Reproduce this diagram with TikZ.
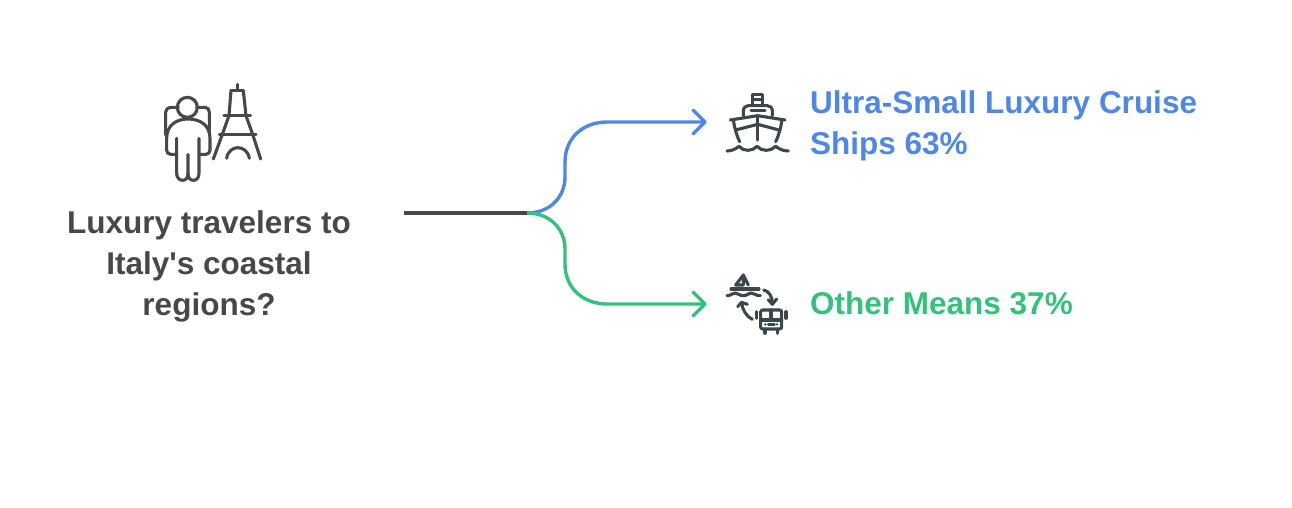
\documentclass[tikz,border=0pt]{standalone}
\usepackage{fontspec}
\newfontfamily\labelfont{Liberation Sans}[BoldFont={Liberation Sans Bold}]
\definecolor{ink}{HTML}{484848}
\definecolor{icon}{HTML}{3C474C}
\definecolor{bluec}{HTML}{4E88E7}
\definecolor{greenc}{HTML}{34C17B}
\tikzset{
  label text/.style={font=\labelfont\fontsize{31.5}{41}\selectfont\bfseries, inner sep=0pt, align=left},
  conn/.style={line width=3.4pt, line cap=round, line join=round},
  ico/.style={line width=3.1pt, line cap=round, line join=round, draw=#1},
}
\begin{document}
\begin{tikzpicture}[x=1pt,y=-1pt]
\useasboundingbox (0,0) rectangle (1292,507);
% texts
\node[label text, text=ink, align=center, anchor=base] (q) at (209,315) {Luxury travelers to\\Italy's coastal\\regions?};
\node[label text, text=bluec, anchor=base west] (a) at (810,154) {Ultra-Small Luxury Cruise\\Ships 63\%};
\node[label text, text=greenc, anchor=base west] (b) at (810,314) {Other Means 37\%};
% connectors
\coordinate (s) at (404,213);
\coordinate (m) at (527,213);
\coordinate (ea) at (705,122);
\coordinate (eb) at (705,304);
\draw[conn, draw=bluec] (m) .. controls (550,213) and (565,197) .. (565,177) -- (565,162) .. controls (565,138) and (583,122) .. (607,122) -- (ea);
\draw[conn, draw=bluec] (693,110) -- (ea) -- (693,134);
\draw[conn, draw=greenc] (m) .. controls (550,213) and (565,229) .. (565,249) -- (565,264) .. controls (565,288) and (583,304) .. (607,304) -- (eb);
\draw[conn, draw=greenc] (693,292) -- (eb) -- (693,316);
\draw[line width=3.4pt, draw=ink] (s) -- (m);
% traveller icon
\begin{scope}[shift={(150,75)},x=0.3333pt,y=-0.3333pt,ico=ink]
\draw (112,97) circle (30);
\draw (85,97) -- (62,97) .. controls (53,97) and (47,103) .. (47,112) -- (47,180);
\draw (140,97) -- (165,97) .. controls (173,97) and (178,103) .. (178,112) -- (178,180);
\draw (80,238) -- (62,238) .. controls (54,238) and (50,232) .. (50,225) -- (50,190) .. controls (50,150) and (80,132) .. (114,132) .. controls (150,132) and (180,150) .. (180,190) -- (180,225) .. controls (180,232) and (175,238) .. (168,238) -- (147,238);
\draw (80,190) -- (80,295) .. controls (80,308) and (88,316) .. (98,316) .. controls (108,316) and (114,308) .. (114,295) -- (114,238);
\draw (114,295) .. controls (114,308) and (120,316) .. (130,316) .. controls (140,316) and (147,308) .. (147,295) -- (147,190);
\draw (262,28) -- (262,47);
\draw (243,47) -- (280,47);
\draw (243,47) -- (237,122) -- (217,178) -- (190,252);
\draw (280,47) -- (288,122) -- (308,178) -- (332,252);
\draw (222,122) -- (302,122);
\draw (208,178) -- (318,178);
\draw (230,250) .. controls (233,228) and (250,218) .. (263,218) .. controls (278,218) and (295,228) .. (298,250);
\end{scope}
% ship icon
\begin{scope}[shift={(715,85)},x=0.3333pt,y=-0.3333pt,ico=icon]
\draw (113,60) -- (113,28) -- (143,28) -- (143,60);
\draw (113,43) -- (143,43);
\draw (85,92) -- (85,78) .. controls (85,68) and (92,62) .. (100,62) -- (157,62) .. controls (166,62) and (172,68) .. (172,78) -- (172,92);
\draw (108,76) -- (150,76);
\draw (46,105) -- (128,92) -- (210,105);
\draw (62,135) -- (128,118) -- (192,135);
\draw (128,92) -- (128,165);
\draw (55,105) .. controls (58,125) and (64,150) .. (74,170);
\draw (201,105) .. controls (198,125) and (192,150) .. (182,170);
\draw (36,198) .. controls (50,198) and (62,192) .. (72,184) .. controls (85,200) and (112,200) .. (126,184) .. controls (140,200) and (168,200) .. (182,184) .. controls (192,192) and (205,198) .. (220,198);
\end{scope}
% boat and bus icon
\begin{scope}[shift={(715,265)},x=0.3333pt,y=-0.3333pt,ico=icon]
\draw (85,30) -- (85,60) -- (62,60) -- cycle;
\draw (85,30) -- (100,60);
\draw (48,72) -- (132,72);
\draw (36,92) .. controls (48,92) and (52,84) .. (60,84) .. controls (70,84) and (72,92) .. (85,92) .. controls (97,92) and (100,84) .. (108,84) .. controls (118,84) and (120,92) .. (136,92);
\draw (146,75) .. controls (162,78) and (172,95) .. (172,115);
\draw (160,104) -- (172,118) -- (185,102);
\draw (112,163) .. controls (95,155) and (82,135) .. (80,114);
\draw (68,125) -- (80,112) -- (97,118);
\draw[rounded corners=2pt] (137,135) rectangle (200,192);
\draw (137,165) -- (200,165);
\draw (168,135) -- (168,165);
\draw (160,178) -- (178,178);
\fill[icon] (151,178) circle (4) (186,178) circle (4);
\draw (150,192) -- (150,205);
\draw (188,192) -- (188,205);
\draw (125,140) -- (125,160);
\draw (213,140) -- (213,160);
\end{scope}
\end{tikzpicture}
\end{document}
